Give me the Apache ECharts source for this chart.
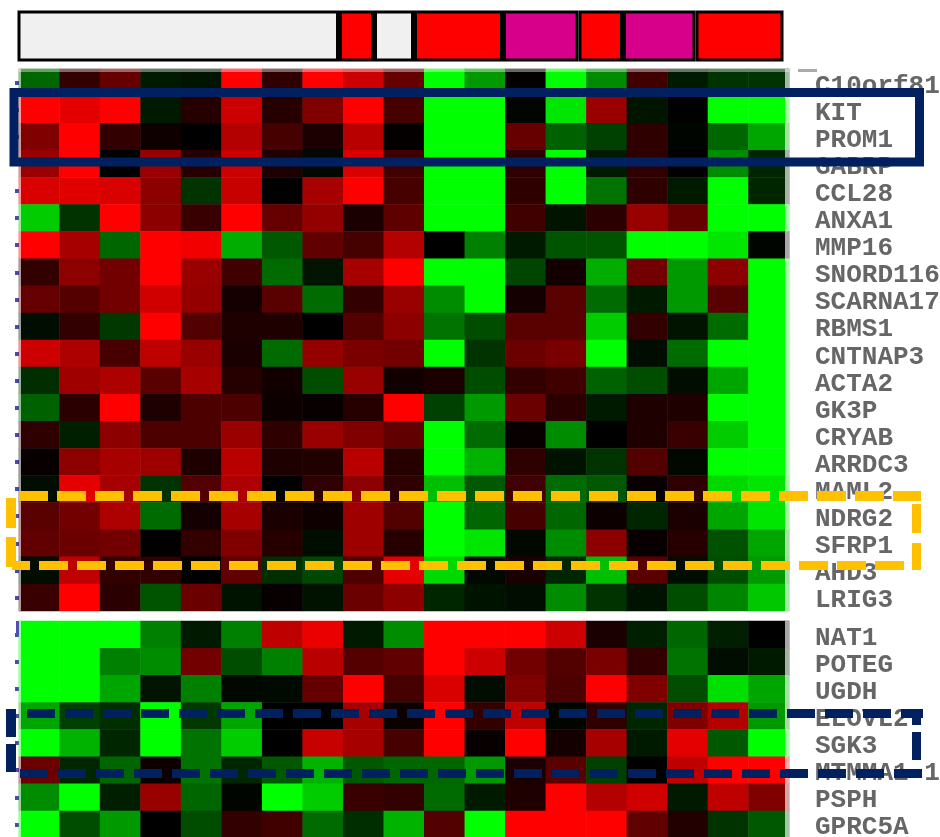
<!DOCTYPE html>
<html><head><meta charset="utf-8">
<style>html,body{margin:0;padding:0;background:#fff}#c{width:940px;height:837px}</style>
<script src="https://cdn.jsdelivr.net/npm/echarts@6/dist/echarts.min.js"></script>
</head><body><div id="c"></div>
<script>
const columns = Array.from({length:19},(_, i)=>'S'+(i+1));
const annotationGroups = ['none','high','none','high','mid','high','mid','high'];
const annotationSpans = [321.5,35,40,89,75.5,44.5,72.5,88];
const annotationColors = {none:'#f0f0f0',high:'#ff0000',mid:'#d6008a'};
const upperGenes = ['C10orf81','KIT','PROM1','GABRP','CCL28','ANXA1','MMP16','SNORD116','SCARNA17','RBMS1','CNTNAP3','ACTA2','GK3P','CRYAB','ARRDC3','MAML2','NDRG2','SFRP1','AHD3','LRIG3'];
const lowerGenes = ['NAT1','POTEG','UGDH','ELOVL2','SGK3','MTMMA1-1','PSPH','GPRC5A'];
const upperValues = [
[-.4,.2,.4,-.1,-.08,1,.18,1,.8,.4,-1,-.6,.02,-1,-.55,.25,-.1,-.2,-.2],
[1,.9,1,-.1,.15,.8,.15,.5,1,.28,-1,-1,-.02,-.9,.6,-.08,0,-1,-1],
[.5,1,.2,.06,0,.7,.28,.1,.72,.02,-1,-1,.4,-.38,-.25,.18,-.02,-.4,-.65],
[.6,1,0,.6,.15,.8,.12,-.03,.85,.25,-1,-1,.18,-1,-.1,.18,0,-.55,-.15],
[.85,.88,.85,.55,-.2,.78,0,.65,1,.28,-1,-1,.18,-1,-.45,.18,-.1,-1,-.15],
[-.8,-.2,1,.55,.22,1,.4,.58,.1,.37,-1,-1,.25,-.08,.17,.6,.4,-1,-1],
[1,.65,-.4,1,.95,-.68,-.35,.38,.27,.7,0,-.5,-.1,-.33,-.33,-1,-1,-.9,-.02],
[.2,.55,.45,1,.6,.25,-.42,-.08,.65,1,-1,-1,-.27,.07,-.68,.45,-.6,.55,-1],
[.4,.33,.45,.82,.58,.08,.35,-.42,.2,.6,-.55,-1,.08,.35,-.42,-.1,-.6,.35,-1],
[-.05,.2,-.22,1,.32,.12,.12,0,.32,.55,-.45,-.3,.35,.35,-.8,.2,-.08,-.42,-1],
[.8,.68,.28,.75,.6,.1,-.42,.58,.48,.45,-1,-.2,.42,.48,-1,-.05,-.42,-1,-1],
[-.18,.62,.68,.35,.65,.15,.07,-.3,.6,.07,.1,-.3,.2,.25,-.38,-.3,-.05,-.65,-1],
[-.38,.17,1,.12,.3,.3,.05,.03,.15,1,-.25,-.6,.42,.17,-.1,.12,.12,-1,-1],
[.18,-.12,.55,.3,.3,.6,.18,.6,.5,.38,-1,-.42,.03,-.55,0,.12,.22,-.8,-1],
[.03,.55,.65,.62,.12,.72,.12,.13,.72,.15,-1,-.7,.18,-.07,-.2,.32,-.03,-1,-1],
[-.05,.9,.65,-.2,.32,.68,0,.18,.55,.18,-.75,-.35,.25,-.42,-.35,.03,.18,-.85,-.9],
[.35,.45,.68,-.42,.08,.65,.1,.06,.62,.32,-1,-.4,.28,-.4,.05,-.15,.1,-.65,-.9],
[.38,.42,.45,0,.2,.5,.15,-.05,.62,.15,-1,-.9,-.03,-.55,.55,.03,.15,-.32,-.65],
[-.05,.75,.2,.2,0,.38,-.18,-.28,.3,.9,-.85,-.03,.1,-.15,-.75,.35,-.05,-.3,-.6],
[.22,1,.17,-.33,.42,-.07,.03,-.07,.42,.55,-.15,-.07,-.05,-.55,-.2,-.07,-.3,-.52,-.78]
];
const lowerValues = [
[-1,-1,-1,-.5,-.1,-.5,.75,.92,-.1,-.55,1,1,1,.8,.1,-.12,-.4,-.12,0],
[-1,-1,-.5,-.55,.45,-.3,-.5,.72,.33,.38,1,.8,.45,.32,.48,.2,-.45,-.05,-.1],
[-1,-1,-.65,-.08,-.5,-.03,-.04,.4,1,.27,.85,-.05,.5,.3,1,.5,-.3,-.88,-.65],
[-.65,-.25,-.18,-1,-.22,-.65,0,0,.65,.05,1,.2,.75,-.02,.18,-.15,.5,.7,-.6],
[-1,-.7,-.15,-1,-.45,-.8,0,.78,.65,.28,1,.03,1,.08,.65,-.1,.9,-.35,-1],
[.42,-.15,-.4,.05,-.45,-.15,-.35,-.7,-.35,-.4,-.4,-.6,.1,.35,-.25,0,.75,1,1],
[-.55,-1,-.12,.6,-.4,-.02,-1,-.8,.22,.2,-.42,-.1,.12,1,.7,.82,-.1,.75,.5],
[-1,-.3,-.6,0,-.3,.2,.25,-.42,-.18,-.7,.32,-1,1,1,1,.38,.13,-.2,-.35]
];

const GL = 19, GW = 770;
const cells = rows => rows.flatMap((r,y)=>r.map((v,x)=>[x,y,v]));
const labelStyle = {show:true,interval:0,color:'#666',fontFamily:'Liberation Mono',fontWeight:'bold',fontSize:26,margin:26,verticalAlign:'top',lineHeight:7};
function heatAxes(i, genes){
  return {
    x:{type:'category',gridIndex:i,data:columns,position:'top',axisLine:{show:false},axisLabel:{show:false},
       axisTick:{show:i===1,interval:0,alignWithLabel:true,inside:true,length:2,lineStyle:{color:'#3a3aa0',width:3}},splitLine:{show:false}},
    y:[{type:'category',gridIndex:i,data:genes,inverse:true,position:'right',axisLine:{show:false},axisTick:{show:false},axisLabel:labelStyle},
       {type:'category',gridIndex:i,data:genes,inverse:true,position:'left',axisLine:{show:false},axisLabel:{show:false},
        axisTick:{show:true,interval:0,alignWithLabel:true,length:4,lineStyle:{color:'#4a4ab0',width:4}}}]
  };
}
const a1 = heatAxes(1, upperGenes), a2 = heatAxes(2, lowerGenes);
const sum = annotationSpans.reduce((a,b)=>a+b,0);
const grids = [
  {left:17.5,width:sum,top:10.5,height:51,outerBoundsMode:'none'},
  {left:GL,width:GW,top:69,height:542,outerBoundsMode:'none'},
  {left:GL,width:GW,top:621,height:217,outerBoundsMode:'none'}
];
const annotationSeries = annotationSpans.map((w,i)=>({
  type:'bar',stack:'a',xAxisIndex:0,yAxisIndex:0,barWidth:'100%',data:[w],silent:true,
  itemStyle:{color:annotationColors[annotationGroups[i]],borderColor:'#000',borderWidth:3}
}));
const dash = (x1,y1,x2,y2,color,w,d,off) => ({type:'line',z:60,shape:{x1,y1,x2,y2},
  style:{stroke:color,lineWidth:w,lineDash:d,lineDashOffset:off}});
const orange = '#ffc000', navy = '#002060', od=[29,9], nd=[28,10];
const chart = echarts.init(document.getElementById('c'),null,{renderer:'canvas'});
chart.setOption({
  animation:false,backgroundColor:'#fff',
  grid:grids,
  xAxis:[{type:'value',gridIndex:0,min:0,max:sum,show:false},a1.x,a2.x],
  yAxis:[{type:'category',gridIndex:0,data:['group'],show:false},...a1.y,...a2.y],
  visualMap:{show:false,min:-1,max:1,seriesIndex:[8,9],inRange:{color:['#00ff00','#000000','#ff0000']}},
  series:[...annotationSeries,
    {type:'heatmap',xAxisIndex:1,yAxisIndex:1,data:cells(upperValues),silent:true,progressive:0},
    {type:'heatmap',xAxisIndex:2,yAxisIndex:3,data:cells(lowerValues),silent:true,progressive:0}
  ],
  graphic:{elements:[
    {type:'rect',z:50,shape:{x:19,y:69,width:2,height:542},style:{fill:'rgba(255,255,255,.6)'}},
    {type:'rect',z:50,shape:{x:785,y:69,width:4,height:542},style:{fill:'rgba(255,255,255,.65)'}},
    {type:'rect',z:50,shape:{x:19,y:621,width:2,height:217},style:{fill:'rgba(255,255,255,.6)'}},
    {type:'rect',z:50,shape:{x:785,y:621,width:4,height:217},style:{fill:'rgba(255,255,255,.65)'}},
    {type:'rect',z:50,shape:{x:19,y:69,width:770,height:3},style:{fill:'rgba(255,255,255,.4)'}},
    {type:'rect',z:50,shape:{x:798,y:69,width:19,height:3},style:{fill:'#aaa'}},
    {type:'rect',z:50,shape:{x:16,y:621,width:3,height:14},style:{fill:'#5050b0'}},
    {type:'rect',z:60,shape:{x:14,y:92.5,width:905.5,height:69.5},style:{fill:'none',stroke:navy,lineWidth:9}},
    dash(19,496,921,496,orange,10,od,0),
    dash(916.5,504,916.5,570,orange,9,[29,10],0),
    dash(12,565.5,921,565.5,orange,9,od,11),
    dash(11,498,11,568,orange,10,[30,9],0),
    dash(27,713.5,923,713.5,navy,9,nd,0),
    dash(916.5,714,916.5,760,navy,9,[11,7,28,100],0),
    dash(20,773.5,923,773.5,navy,9,nd,0),
    dash(11,709,11,773,navy,10,[28,7],0)
  ]}
});
</script></body></html>
